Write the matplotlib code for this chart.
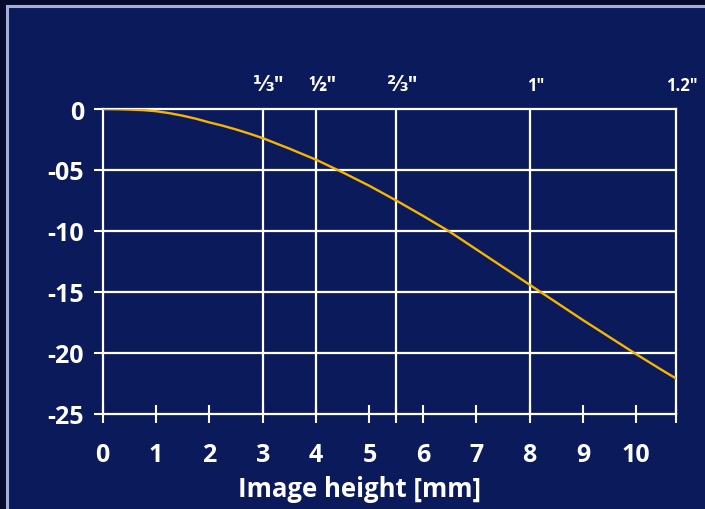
import matplotlib
matplotlib.use("Agg")
import matplotlib.pyplot as plt
import matplotlib.transforms as mtransforms
from matplotlib.patches import Rectangle

# distortion curve
image_height = [0, 0.25, 0.5, 0.75, 1, 1.25, 1.5, 1.75, 2, 2.25, 2.5, 2.75,
                3, 3.5, 4, 4.5, 5, 5.5, 6, 6.5, 7, 7.5, 8, 8.5, 9, 9.5,
                10, 10.5, 10.75]
distortion = [0, -0.01, -0.04, -0.09, -0.18, -0.34, -0.55, -0.8, -1.1,
              -1.37, -1.68, -2.02, -2.39, -3.25, -4.16, -5.2, -6.3, -7.5,
              -8.75, -10.05, -11.5, -12.95, -14.4, -15.85, -17.3, -18.7,
              -20.1, -21.45, -22.1]

x_ticks = [0, 1, 2, 3, 4, 5, 6, 7, 8, 9, 10]
y_ticks = [0, -5, -10, -15, -20, -25]
y_tick_labels = ["0", "-05", "-10", "-15", "-20", "-25"]

# sensor format markers along the top
format_pos = [3, 4, 5.5, 8, 10.75]
format_labels = ["⅓″", "½″", "⅔″", "1″", "1.2″"]
format_sizes = [15, 15, 15, 12, 12]

navy = "#0b1a5b"
gold = "#f7b500"
fonts = ["Open Sans", "DejaVu Sans"]

fig = plt.figure(figsize=(7.05, 5.10), dpi=100)
fig.patch.set_facecolor("#080c2c")
# light frame of the panel
fig.patches.append(Rectangle((7 / 705, -0.1), 1.2, 1.1 - 7 / 510,
                             transform=fig.transFigure, facecolor=navy,
                             edgecolor="#a3afd6", linewidth=2.2, zorder=-10))

ax = fig.add_axes([102.7 / 705, 1 - 415 / 510, (676.3 - 102.7) / 705, 305 / 510])
ax.set_facecolor(navy)
ax.set_xlim(0, 10.75)
ax.set_ylim(-25, 0)

for y in y_ticks[1:-1]:
    ax.axhline(y, color="white", lw=1.6, zorder=1)
for x in format_pos[:-1]:
    ax.axvline(x, color="white", lw=1.6, zorder=1)

ax.plot(image_height, distortion, color=gold, lw=1.7, zorder=3)

for side in ["top", "bottom", "left", "right"]:
    ax.spines[side].set_color("white")
    ax.spines[side].set_linewidth(1.6)

ax.set_xticks(x_ticks)
ax.set_xticks([5.5, 10.75], minor=True)
ax.set_yticks(y_ticks)
ax.set_yticklabels(y_tick_labels)
ax.tick_params(axis="x", which="both", direction="inout", length=13,
               width=1.5, color="white", labelcolor="white", pad=14,
               labelsize=18)
ax.tick_params(axis="y", direction="out", length=6.5, width=1.5,
               color="white", labelcolor="white", pad=7, labelsize=18)
for lab in ax.get_xticklabels() + ax.get_yticklabels():
    lab.set_family(fonts)
    lab.set_fontweight("bold")

ax.set_xlabel("Image height [mm]", color="white", fontsize=18.5,
              fontweight="bold", family=fonts)
ax.xaxis.set_label_coords(0.447, -0.2)

shift = mtransforms.offset_copy(ax.transData, fig=fig, x=6, y=0, units="dots")
blend = mtransforms.blended_transform_factory(shift, ax.transAxes)
for pos, lab, size in zip(format_pos, format_labels, format_sizes):
    ax.text(pos, 1.08, lab, transform=blend, ha="center", va="center",
            color="white", fontsize=size, fontweight="bold", family=fonts)

fig.savefig("out.png", dpi=100, facecolor=fig.get_facecolor())
